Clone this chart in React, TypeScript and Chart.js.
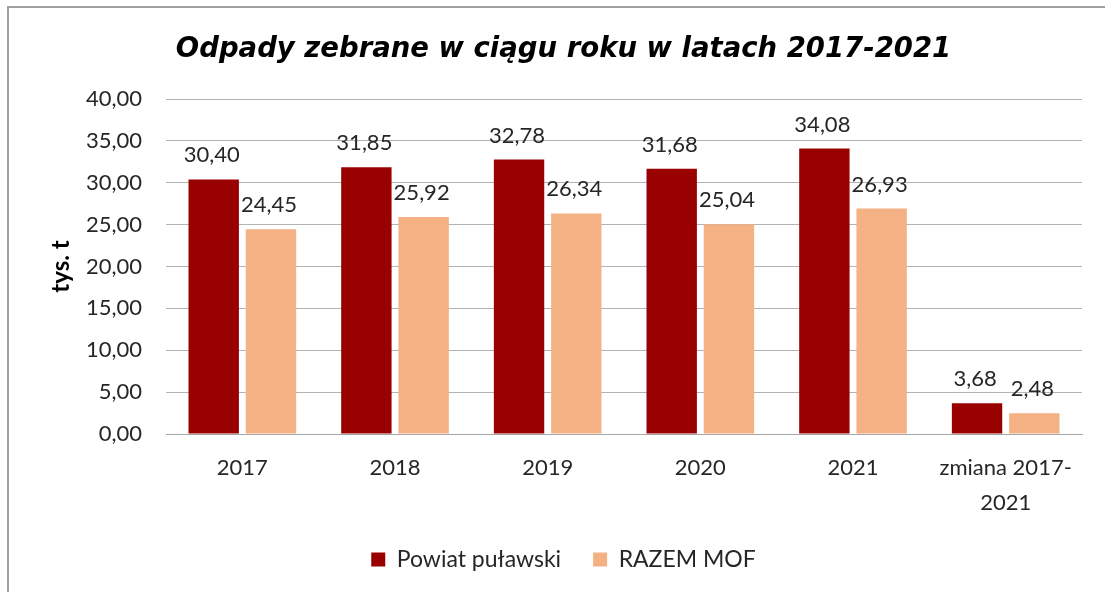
import React, { useEffect, useRef } from "react";
import { Chart, registerables } from "chart.js";

Chart.register(...registerables);

const categories: (string | string[])[] = ["2017", "2018", "2019", "2020", "2021", ["zmiana 2017-", "2021"]];
const powiatValues = [30.4, 31.85, 32.78, 31.68, 34.08, 3.68];
const mofValues = [24.45, 25.92, 26.34, 25.04, 26.93, 2.48];
const seriesNames = ["Powiat puławski", "RAZEM MOF"];
const titleText = "Odpady zebrane w ciągu roku w latach 2017-2021";
const yAxisTitle = "tys. t";

const BODY_FONT = "Lato, 'Noto Sans', sans-serif";
const fmt = (v: number) => v.toFixed(2).replace(".", ",");

const dataLabelPlugin = {
  id: "dataLabels",
  afterDatasetsDraw(chart: any) {
    const ctx = chart.ctx;
    ctx.save();
    ctx.font = `22px ${BODY_FONT}`;
    ctx.fillStyle = "#262626";
    ctx.textAlign = "center";
    ctx.textBaseline = "middle";
    chart.data.datasets.forEach((ds: any, i: number) => {
      const meta = chart.getDatasetMeta(i);
      meta.data.forEach((bar: any, j: number) => {
        ctx.fillText(fmt(ds.data[j]), bar.x - 2, bar.y - 24);
      });
    });
    ctx.restore();
  },
};

export default function App() {
  const canvasRef = useRef<HTMLCanvasElement | null>(null);

  useEffect(() => {
    if (!canvasRef.current) return;
    const chart = new Chart(canvasRef.current, {
      type: "bar",
      data: {
        labels: categories,
        datasets: [
          {
            label: seriesNames[0],
            data: powiatValues,
            backgroundColor: "#990000",
            categoryPercentage: 0.75,
            barPercentage: 0.88,
          },
          {
            label: seriesNames[1],
            data: mofValues,
            backgroundColor: "#F4B183",
            categoryPercentage: 0.75,
            barPercentage: 0.88,
          },
        ],
      },
      plugins: [dataLabelPlugin],
      options: {
        responsive: false,
        animation: false,
        layout: { padding: { left: 45, right: 23, top: 0, bottom: 11 } },
        plugins: {
          title: {
            display: true,
            text: titleText,
            color: "#000000",
            font: { family: "'DejaVu Sans', sans-serif", size: 27.5, weight: "bold", style: "italic", lineHeight: 1.2 },
            padding: { top: 33.5, bottom: 32.5 },
          },
          legend: {
            position: "bottom",
            labels: {
              boxWidth: 14,
              boxHeight: 14,
              padding: 32,
              color: "#262626",
              font: { family: BODY_FONT, size: 23 },
            },
          },
          tooltip: { enabled: false },
        },
        scales: {
          x: {
            grid: { display: false, drawTicks: false },
            border: { display: true, color: "#a6a6a6", width: 1 },
            ticks: {
              color: "#262626",
              padding: 16,
              maxRotation: 0,
              autoSkip: false,
              font: { family: BODY_FONT, size: 22, lineHeight: 1.6 },
            },
            afterFit(scale: any) {
              scale.height = 82;
            },
          },
          y: {
            min: 0,
            max: 40,
            grid: { color: "#b3b3b3", drawTicks: false, lineWidth: 1 },
            border: { display: false },
            ticks: {
              stepSize: 5,
              padding: 24,
              color: "#262626",
              font: { family: BODY_FONT, size: 22 },
              callback: (v: any) => fmt(Number(v)),
            },
            title: {
              display: true,
              text: yAxisTitle,
              color: "#000000",
              font: { family: BODY_FONT, size: 24, weight: "bold" },
              padding: { top: 2, bottom: 0 },
            },
            afterFit(scale: any) {
              scale.width = 166 - 45;
            },
          },
        },
      },
    } as any);
    return () => chart.destroy();
  }, []);

  return (
    <div style={{ position: "absolute", left: 0, top: 0, width: 1105, height: 592, overflow: "hidden", background: "#fff" }}>
      <canvas ref={canvasRef} width={1105} height={592} style={{ position: "absolute", left: 0, top: 0 }} />
      <div
        style={{
          position: "absolute",
          left: 7,
          top: 6,
          width: 1300,
          height: 800,
          borderTop: "2px solid #a0a0a0",
          borderLeft: "2px solid #a0a0a0",
          pointerEvents: "none",
        }}
      />
    </div>
  );
}
